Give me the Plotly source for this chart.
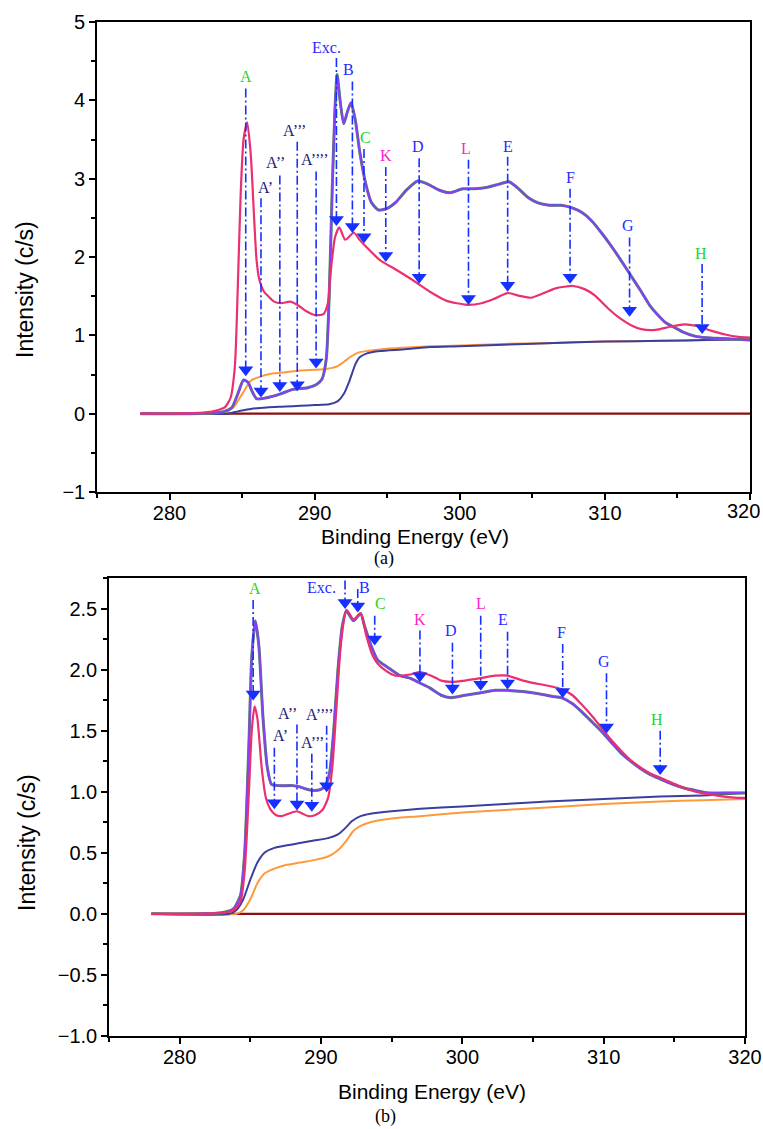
import plotly.graph_objects as go

W, H = 763, 1129

# ---------------- Panel (a) data ----------------
a_pink_x = [278, 280, 282, 283, 283.8, 284.2, 284.5, 284.7, 284.9, 285.1, 285.35, 285.6, 285.8, 286.0, 286.2,
            286.5, 286.8, 287.2, 287.7, 288.3, 288.8, 289.4, 290.0, 290.6, 290.9, 291.1, 291.4, 291.7, 292.1,
            292.7, 293.1, 293.6, 294.5, 295.5, 296.8, 298.0, 299.1, 300.5, 301.5, 302.3, 303.3, 304.2, 304.9,
            305.8, 306.6, 307.8, 308.6, 309.3, 310.3, 311.1, 311.8, 312.5, 313.5, 314.5, 315.5, 316.3, 317.3,
            318.3, 319.2, 320.0]
a_pink_y = [0.0, 0.0, 0.01, 0.03, 0.08, 0.2, 0.6, 1.6, 2.8, 3.5, 3.72, 3.3, 2.6, 1.95, 1.7,
            1.56, 1.5, 1.43, 1.41, 1.43, 1.39, 1.31, 1.26, 1.27, 1.4, 1.8, 2.25, 2.38, 2.22,
            2.31, 2.22, 2.12, 1.96, 1.85, 1.70, 1.55, 1.44, 1.39, 1.41, 1.46, 1.54, 1.50, 1.48,
            1.54, 1.60, 1.63, 1.59, 1.51, 1.33, 1.21, 1.13, 1.08, 1.07, 1.11, 1.14, 1.12, 1.06,
            1.01, 0.98, 0.97]

a_purple_x = [278, 281, 283, 283.8, 284.3, 284.7, 285.1, 285.4, 285.7, 286.0, 286.6, 287.6, 288.5, 289.5,
              290.1, 290.5, 290.8, 291.0, 291.2, 291.4, 291.55, 291.75, 292.0, 292.25, 292.5, 292.8, 293.1,
              293.5, 293.9, 294.4, 295.0, 295.6, 296.3, 297.1, 297.8, 298.5, 299.3, 300.2, 301.0, 301.9,
              302.7, 303.4, 304.0, 304.7, 305.4, 306.2, 307.0, 307.7, 308.4, 309.1, 309.8, 310.4, 311.1,
              311.8, 312.5, 313.1, 313.7, 314.2, 314.8, 315.4, 316.2, 317.0, 318.0, 319.0, 320.0]
a_purple_y = [0.0, 0.0, 0.01, 0.03, 0.08, 0.25, 0.43, 0.40, 0.28, 0.19, 0.20, 0.25, 0.31, 0.33,
              0.37, 0.44, 0.7, 1.5, 2.8, 3.9, 4.33, 4.0, 3.70, 3.85, 3.97, 3.75, 3.35,
              2.95, 2.7, 2.6, 2.62, 2.7, 2.85, 2.97, 2.93, 2.86, 2.82, 2.87, 2.87, 2.89,
              2.93, 2.96, 2.88, 2.76, 2.69, 2.66, 2.66, 2.63, 2.57, 2.46, 2.30, 2.15, 1.96,
              1.76, 1.56, 1.38, 1.25, 1.16, 1.10, 1.04, 0.99, 0.97, 0.96, 0.95, 0.94]

a_orange_x = [278, 283.0, 283.8, 284.4, 285.0, 285.6, 286.2, 287.0, 288.0, 289.0, 290.0, 290.8, 291.5, 292.0,
              292.5, 293.0, 293.6, 294.5, 296.0, 298.0, 300.0, 303.0, 306.0, 310.0, 314.0, 317.0, 320.0]
a_orange_y = [0.0, 0.0, 0.02, 0.08, 0.25, 0.42, 0.47, 0.51, 0.53, 0.55, 0.56, 0.57, 0.60, 0.66,
              0.73, 0.78, 0.80, 0.82, 0.84, 0.86, 0.87, 0.89, 0.90, 0.92, 0.93, 0.94, 0.95]

a_navy_x = [278, 284.0, 284.5, 285.0, 285.6, 286.7, 288.0, 289.0, 290.0, 291.0, 291.6, 292.0, 292.4, 292.8,
            293.1, 293.6, 294.5, 296.0, 298.0, 300.0, 303.0, 306.0, 310.0, 314.0, 317.0, 320.0]
a_navy_y = [0.0, 0.0, 0.02, 0.04, 0.06, 0.08, 0.09, 0.10, 0.11, 0.12, 0.16, 0.25, 0.42, 0.63,
            0.72, 0.77, 0.80, 0.82, 0.85, 0.86, 0.88, 0.90, 0.92, 0.93, 0.94, 0.95]

# ---------------- Panel (b) data ----------------
b_pink_x = [278, 281, 283, 283.8, 284.3, 284.6, 284.9, 285.1, 285.3, 285.5, 285.8, 286.1, 286.4, 286.8, 287.2,
            287.7, 288.3, 288.7, 289.1, 289.6, 290.1, 290.5, 290.8, 291.1, 291.4, 291.8, 292.3, 292.8, 293.2,
            293.6, 294.0, 294.6, 295.3, 296.3, 297.0, 297.8, 298.5, 299.2, 300.2, 301.3, 302.3, 303.2, 304.3,
            305.5, 306.4, 307.0, 307.8, 308.4, 309.1, 309.8, 310.5, 311.2, 311.9, 312.6, 313.3, 314.1, 314.9,
            315.7, 316.5, 317.4, 318.5, 319.5, 320.0]
b_pink_y = [0.0, 0.0, 0.01, 0.03, 0.1, 0.35, 1.0, 1.5, 1.70, 1.6, 1.2, 0.95, 0.86, 0.81, 0.80,
            0.82, 0.84, 0.82, 0.80, 0.81, 0.85, 0.95, 1.2, 1.7, 2.2, 2.49, 2.41, 2.46, 2.28,
            2.13, 2.05, 1.99, 1.95, 1.96, 1.98, 1.95, 1.91, 1.90, 1.91, 1.93, 1.95, 1.95, 1.91,
            1.88, 1.86, 1.84, 1.79, 1.72, 1.63, 1.53, 1.43, 1.34, 1.26, 1.20, 1.15, 1.11, 1.07,
            1.03, 1.00, 0.98, 0.96, 0.95, 0.95]

b_purple_x = [278, 281, 283, 283.8, 284.3, 284.6, 284.9, 285.1, 285.35, 285.6, 285.9, 286.2, 286.5, 287.0,
              288.0, 288.5, 289.0, 289.5, 290.0, 290.3, 290.6, 290.9, 291.2, 291.5, 291.8, 292.3, 292.8,
              293.1, 293.5, 294.0, 294.7, 295.6, 296.3, 297.0, 297.7, 298.5, 299.2, 300.2, 301.3, 302.3,
              303.2, 304.3, 305.5, 306.4, 307.0, 307.8, 308.4, 309.1, 309.8, 310.5, 311.2, 311.9, 312.6,
              313.3, 314.1, 314.9, 315.7, 316.5, 317.4, 318.5, 319.5, 320.0]
b_purple_y = [0.0, 0.0, 0.01, 0.04, 0.15, 0.5, 1.4, 2.1, 2.40, 2.2, 1.6, 1.2, 1.06, 1.05,
              1.05, 1.04, 1.02, 1.01, 1.02, 1.05, 1.15, 1.5, 2.0, 2.35, 2.48, 2.40, 2.46,
              2.35, 2.21, 2.08, 2.02, 1.95, 1.93, 1.89, 1.85, 1.79, 1.77, 1.79, 1.81, 1.83,
              1.83, 1.82, 1.80, 1.78, 1.77, 1.72, 1.66, 1.58, 1.50, 1.41, 1.32, 1.25, 1.19,
              1.14, 1.10, 1.06, 1.03, 1.01, 0.99, 0.99, 0.99, 0.99]

b_navy_x = [278, 283.5, 284.0, 284.5, 285.0, 285.5, 286.0, 286.7, 287.5, 288.5, 289.5, 290.5, 291.2, 291.7,
            292.2, 292.8, 293.5, 295.0, 297.0, 300.0, 303.0, 306.0, 310.0, 314.0, 317.0, 320.0]
b_navy_y = [0.0, 0.0, 0.03, 0.12, 0.28, 0.42, 0.50, 0.54, 0.56, 0.58, 0.60, 0.62, 0.65, 0.70,
            0.76, 0.80, 0.82, 0.84, 0.86, 0.88, 0.90, 0.92, 0.94, 0.96, 0.97, 0.99]

b_orange_x = [278, 284.0, 284.5, 285.0, 285.5, 286.0, 286.7, 287.5, 288.5, 289.5, 290.5, 291.2, 291.8, 292.3,
              292.8, 293.5, 295.0, 297.0, 300.0, 303.0, 306.0, 310.0, 314.0, 317.0, 320.0]
b_orange_y = [0.0, 0.0, 0.03, 0.12, 0.25, 0.33, 0.37, 0.40, 0.42, 0.44, 0.47, 0.52, 0.60, 0.68,
              0.72, 0.75, 0.78, 0.80, 0.83, 0.85, 0.87, 0.90, 0.92, 0.93, 0.94]

baseline_x = [278, 320]
baseline_y = [0.0, 0.0]

x_tick_vals = [280, 290, 300, 310, 320]
x_tick_text = ["280", "290", "300", "310", "320"]

# ---------------- Peak markers ----------------
peak_labels = ["A", "A’", "A’’", "A’’’", "A’’’’", "Exc.", "B", "C", "K", "D", "L", "E", "F", "G", "H"]
peak_label_colors = ["#1fd61f", "#1c1c78", "#1c1c78", "#1c1c78", "#1c1c78", "#1f2bff", "#1f2bff",
                     "#1fd61f", "#ff1fd0", "#1f2bff", "#ff1fd0", "#1f2bff", "#1f2bff", "#1f2bff", "#1fd61f"]

a_line_x = [285.25, 286.3, 287.6, 288.8, 290.1, 291.5, 292.6, 293.4, 294.9, 297.2, 300.6, 303.3, 307.6, 311.7, 316.7]
a_line_top = [4.15, 2.75, 3.04, 3.47, 3.09, 4.54, 4.24, 3.38, 3.15, 3.26, 3.24, 3.28, 2.87, 2.25, 1.91]
a_head_y = [0.56, 0.29, 0.36, 0.37, 0.66, 2.48, 2.39, 2.26, 2.02, 1.74, 1.47, 1.64, 1.74, 1.32, 1.10]
a_label_x = [285.25, 286.6, 287.3, 288.6, 290.0, 290.8, 292.3, 293.5, 294.9, 297.1, 300.4, 303.3, 307.6, 311.6, 316.6]
a_label_y = [4.31, 2.89, 3.20, 3.62, 3.24, 4.68, 4.39, 3.53, 3.29, 3.41, 3.38, 3.41, 3.02, 2.40, 2.05]

b_line_x = [285.2, 286.7, 288.3, 289.35, 290.4, 291.7, 292.6, 293.8, 297.0, 299.3, 301.3, 303.2, 307.1, 310.2, 314.0]
b_line_top = [2.57, 1.36, 1.55, 1.31, 1.54, 2.73, 2.66, 2.44, 2.32, 2.22, 2.44, 2.31, 2.21, 1.97, 1.50]
b_head_y = [1.80, 0.91, 0.90, 0.89, 1.05, 2.55, 2.52, 2.25, 1.95, 1.85, 1.88, 1.89, 1.82, 1.53, 1.19]
b_label_x = [285.3, 287.1, 287.6, 289.4, 289.9, 290.0, 293.1, 294.2, 297.0, 299.2, 301.3, 302.9, 307.0, 310.0, 313.8]
b_label_y = [2.66, 1.46, 1.64, 1.40, 1.63, 2.67, 2.67, 2.54, 2.41, 2.32, 2.54, 2.41, 2.30, 2.07, 1.59]

# ---------------- styling ----------------
PINK = "#ea3070"
PURPLE = "#8440f4"
GREEN = "#4a9a4a"
ORANGE = "#ff9a3c"
NAVY = "#3a3f9e"
DARKRED = "#8b0f0f"
ARROW = "#1530ff"
SANS = "Liberation Sans, Arial, sans-serif"
SERIF = "Liberation Serif, Times New Roman, serif"

fig = go.Figure()


def add_panel(xa, ya, curves, line_x, line_top, head_y, label_x, label_y):
    for (xs, ys, col, w) in curves:
        fig.add_trace(go.Scatter(x=xs, y=ys, mode="lines", xaxis=xa, yaxis=ya,
                                 line=dict(color=col, width=w, shape="spline", smoothing=0.6),
                                 showlegend=False, hoverinfo="skip"))
    lx, ly = [], []
    for x0, t, h in zip(line_x, line_top, head_y):
        lx += [x0, x0, None]
        ly += [t, h, None]
    fig.add_trace(go.Scatter(x=lx, y=ly, mode="lines", xaxis=xa, yaxis=ya,
                             line=dict(color=ARROW, width=1.6, dash="9px,3px,2px,3px"),
                             showlegend=False, hoverinfo="skip"))
    fig.add_trace(go.Scatter(x=line_x, y=head_y, mode="markers", xaxis=xa, yaxis=ya,
                             marker=dict(symbol="triangle-down", size=13, color=ARROW),
                             showlegend=False, hoverinfo="skip", cliponaxis=False))
    for lab, col, x0, y0 in zip(peak_labels, peak_label_colors, label_x, label_y):
        fig.add_annotation(x=x0, y=y0, xref=xa, yref=ya, text=lab, showarrow=False,
                           font=dict(family=SERIF, size=16, color=col))


add_panel("x", "y",
          [(baseline_x, baseline_y, DARKRED, 2.2),
           (a_orange_x, a_orange_y, ORANGE, 2),
           (a_navy_x, a_navy_y, NAVY, 2),
           (a_purple_x, a_purple_y, GREEN, 3.0),
           (a_purple_x, a_purple_y, PURPLE, 2.2),
           (a_pink_x, a_pink_y, PINK, 2.2)],
          a_line_x, a_line_top, a_head_y, a_label_x, a_label_y)

add_panel("x2", "y2",
          [(baseline_x, baseline_y, DARKRED, 2.2),
           (b_orange_x, b_orange_y, ORANGE, 2),
           (b_navy_x, b_navy_y, NAVY, 2),
           (b_purple_x, b_purple_y, GREEN, 3.0),
           (b_purple_x, b_purple_y, PURPLE, 2.2),
           (b_pink_x, b_pink_y, PINK, 2.2)],
          b_line_x, b_line_top, b_head_y, b_label_x, b_label_y)

axis_common = dict(showline=True, linecolor="black", linewidth=1.6, mirror=True, ticks="outside",
                   ticklen=6, tickwidth=1.5, tickcolor="black", showgrid=False, zeroline=False,
                   automargin=False, ticklabeloverflow="allow",
                   tickfont=dict(family=SANS, size=20, color="black"))

minor_x = dict(dtick=5, tick0=275, ticks="outside", ticklen=4, tickcolor="black", tickwidth=1.5)

# top panel: last tick label is placed as a text item so it stays inside the page
top_tick_text = x_tick_text[:-1] + [""]

fig.update_layout(
    width=W, height=H, margin=dict(l=0, r=0, t=0, b=0, autoexpand=False),
    paper_bgcolor="white", plot_bgcolor="white", showlegend=False,
    xaxis=dict(domain=[97 / W, 750 / W], range=[275, 320], anchor="y", tickvals=x_tick_vals,
               ticktext=top_tick_text, ticklabelstandoff=-4, minor=minor_x, **axis_common),
    yaxis=dict(domain=[1 - 492 / H, 1 - 22 / H], range=[-1, 5], anchor="x", dtick=1, ticklabelstandoff=0,
               minor=dict(dtick=0.5, ticks="outside", ticklen=4, tickcolor="black", tickwidth=1.5),
               **axis_common),
    xaxis2=dict(domain=[109 / W, 745 / W], range=[275, 320], anchor="y2", tickvals=x_tick_vals,
                ticktext=x_tick_text, ticklabelstandoff=-4, minor=minor_x, **axis_common),
    yaxis2=dict(domain=[1 - 1036 / H, 1 - 578 / H], range=[-1.0, 2.75], anchor="x2", dtick=0.5,
                tickformat=".1f", tick0=0, ticklabelstandoff=0,
                minor=dict(dtick=0.25, ticks="outside", ticklen=4, tickcolor="black", tickwidth=1.5),
                **axis_common),
)

# axis titles and panel captions
texts = [
    (x_tick_text[-1], 743, 511, 0, SANS, 20),
    ("Binding Energy (eV)", 415, 536, 0, SANS, 21),
    ("(a)", 384, 558, 0, SERIF, 18),
    ("Intensity (c/s)", 25, 290, -90, SANS, 23),
    ("Binding Energy (eV)", 432, 1091, 0, SANS, 21),
    ("(b)", 385, 1116, 0, SERIF, 18),
    ("Intensity (c/s)", 27, 843, -90, SANS, 23),
]
for t, px, py, ang, fam, sz in texts:
    fig.add_annotation(x=px / W, y=1 - py / H, xref="paper", yref="paper", text=t, showarrow=False,
                       textangle=ang, xanchor="center", yanchor="middle",
                       font=dict(family=fam, size=sz, color="black"))

fig.write_html("out.html", config={"displayModeBar": False},
               post_script="document.body.style.margin='0px';document.body.style.padding='0px';")
